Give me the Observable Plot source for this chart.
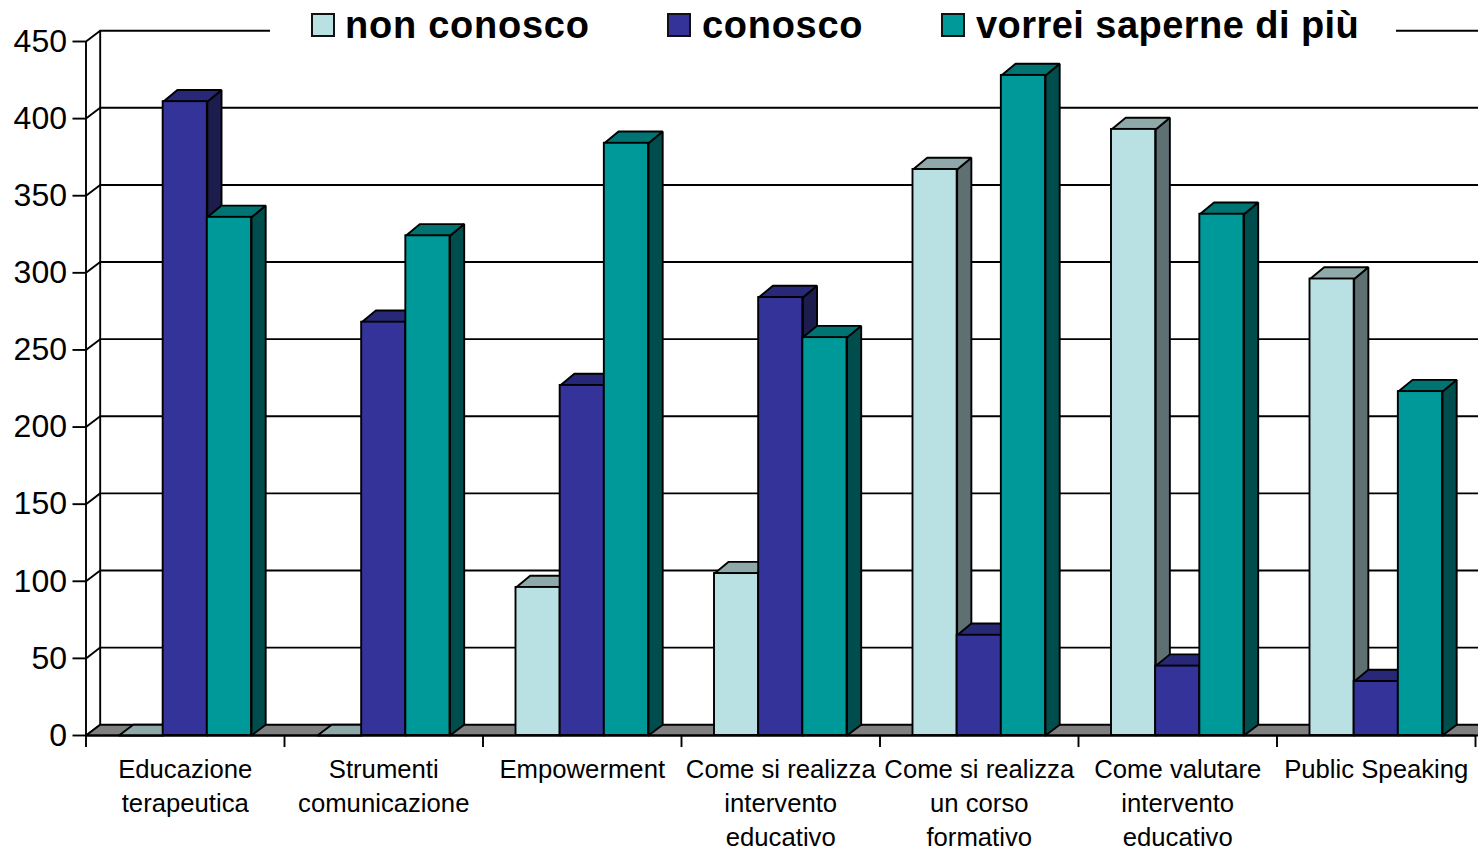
<!DOCTYPE html>
<html>
<head>
<meta charset="utf-8">
<script src="https://cdn.jsdelivr.net/npm/d3@7"></script>
<script src="https://cdn.jsdelivr.net/npm/@observablehq/plot@0.6"></script>
<style>
html,body{margin:0;padding:0;background:#fff;overflow:hidden}
#wrap{position:relative;width:1478px;height:852px;font-family:"Liberation Sans",Arial,sans-serif}
#legend{position:absolute;left:270px;top:0;width:1126px;height:50px;background:#fff}
#legend .sw{position:absolute;top:13px;width:20px;height:20px;border:2px solid #111}
#legend .tx{position:absolute;top:3px;font-weight:bold;font-size:38px;line-height:44px;color:#000;white-space:nowrap}
</style>
</head>
<body>
<div id="wrap"><div id="chart"></div><div id="legend"></div></div>
<script>
const categories = ["Educazione\nterapeutica","Strumenti\ncomunicazione","Empowerment","Come si realizza\nintervento\neducativo","Come si realizza\nun corso\nformativo","Come valutare\nintervento\neducativo","Public Speaking"];
const nonConosco = [0,0,96,105,367,393,296];
const conosco = [411,268,227,284,65,45,35];
const vorrei = [336,324,384,258,428,338,223];
const seriesNames = ["non conosco","conosco","vorrei saperne di più"];
const yTicks = [0,50,100,150,200,250,300,350,400,450];

const faceColors = [
  {front:"#B9E0E3", side:"#5F7072", top:"#8FA8AA"},
  {front:"#333399", side:"#1C1C4D", top:"#282878"},
  {front:"#009999", side:"#004D4D", top:"#007373"}
];
const legendPos = [[311,345],[667,702],[941,976]];
const legendSpacing = [0.75,0.7,0.45];

const barW = 0.2225, depthX = 0.0715, wallE = 7, barE = 7.6;
const seriesVals = [nonConosco, conosco, vorrei];
const idx = d3.range(categories.length);

function barRows(vals, s){
  return vals.map((v,i)=>{
    const xl = i + 0.5 + (s-1.5)*barW;
    return {id:i, v, xl, xr:xl+barW};
  });
}
const poly = (rows, f) => rows.flatMap(r => f(r).map(p => ({id:r.id, x:p[0], y:p[1]})));
const stroke = {stroke:"#000", strokeWidth:1.9, strokeLinejoin:"miter"};

const barMarks = seriesVals.flatMap((vals,s)=>{
  const rows = barRows(vals,s);
  const c = faceColors[s];
  const side = poly(rows.filter(r=>r.v>0), r=>[[r.xr,0],[r.xr+depthX,wallE],[r.xr+depthX,r.v+barE],[r.xr,r.v],[r.xr,0]]);
  const top = poly(rows, r=>{const e=r.v>0?barE:wallE; return [[r.xl,r.v],[r.xr,r.v],[r.xr+depthX,r.v+e],[r.xl+depthX,r.v+e],[r.xl,r.v]];});
  return [
    Plot.line(side,{x:"x",y:"y",z:"id",fill:c.side,...stroke}),
    Plot.line(top,{x:"x",y:"y",z:"id",fill:c.top,...stroke}),
    Plot.rect(rows.filter(r=>r.v>0),{x1:"xl",x2:"xr",y1:0,y2:"v",fill:c.front,...stroke,inset:0})
  ];
});

const n = categories.length;
const floor = [[0,0],[n+0.2,0],[n+0.2+depthX,wallE],[depthX,wallE],[0,0]].map(p=>({x:p[0],y:p[1]}));
const lineStyle = {stroke:"#000",strokeWidth:1.9};

const chart = Plot.plot({
  width:1478, height:852,
  marginLeft:85.5, marginRight:3, marginTop:41, marginBottom:117,
  style:{fontFamily:'"Liberation Sans",Arial,sans-serif',background:"#fff",color:"#000",overflow:"hidden"},
  x:{type:"linear",domain:[0,n],range:[85.5,1475]},
  y:{type:"linear",domain:[0,450],range:[735,41]},
  marks:[
    Plot.ruleY(yTicks.slice(1),{y:d=>d+wallE,x1:depthX,x2:n+0.2,...lineStyle}),
    Plot.link(yTicks,{x1:0,y1:d=>d,x2:depthX,y2:d=>d+wallE,...lineStyle}),
    Plot.ruleX([depthX],{y1:wallE,y2:450+wallE,...lineStyle}),
    Plot.ruleX([0],{y1:0,y2:450,...lineStyle}),
    Plot.line(floor,{x:"x",y:"y",fill:"#808080",...stroke}),
    ...barMarks,
    Plot.ruleY([0],{stroke:"#000",strokeWidth:2.2}),
    Plot.ruleX(d3.range(n+1),{y1:0,y2:-7.8,...lineStyle}),
    Plot.axisY({ticks:yTicks,tickSize:13,tickPadding:6,fontSize:32,label:null,...lineStyle,tickFormat:d=>String(d)}),
    Plot.axisX({ticks:idx.map(i=>i+0.5),tickSize:0,tickPadding:18,fontSize:25.7,lineHeight:1.325,label:null,tickFormat:(d,i)=>categories[i]})
  ]
});
document.getElementById("chart").appendChild(chart);

const legend = d3.select("#legend");
seriesNames.forEach((name,i)=>{
  legend.append("div").attr("class","sw").style("left",(legendPos[i][0]-270)+"px").style("background",faceColors[i].front);
  legend.append("div").attr("class","tx").style("left",(legendPos[i][1]-270)+"px").style("letter-spacing",legendSpacing[i]+"px").text(name);
});
</script>
</body>
</html>
